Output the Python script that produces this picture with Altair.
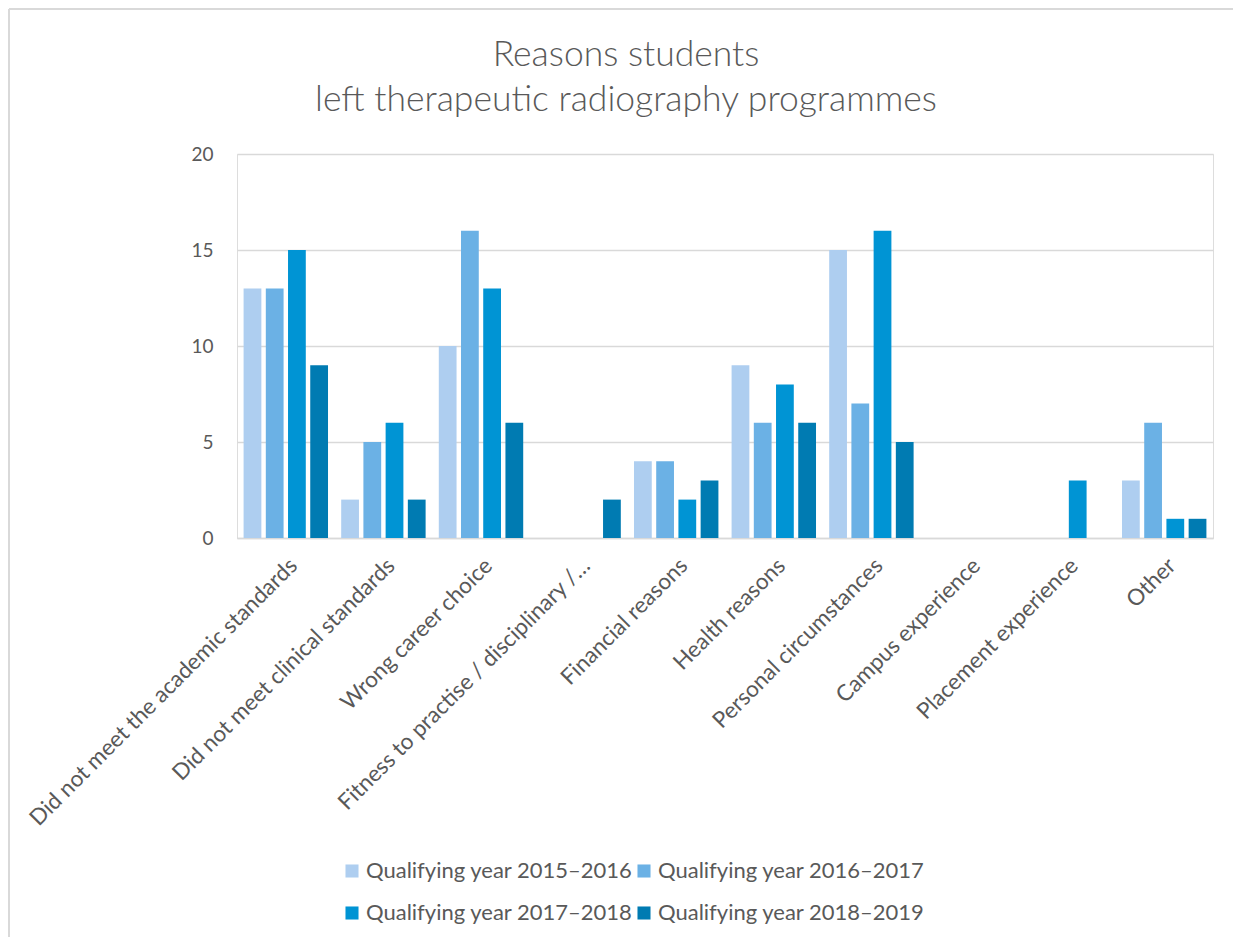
import altair as alt
import pandas as pd

categories = [
    "Did not meet the academic standards",
    "Did not meet clinical standards",
    "Wrong career choice",
    "Fitness to practise / disciplinary /…",
    "Financial reasons",
    "Health reasons",
    "Personal circumstances",
    "Campus experience",
    "Placement experience",
    "Other",
]
series_names = [
    "Qualifying year 2015–2016",
    "Qualifying year 2016–2017",
    "Qualifying year 2017–2018",
    "Qualifying year 2018–2019",
]
y2015 = [13, 2, 10, 0, 4, 9, 15, 0, 0, 3]
y2016 = [13, 5, 16, 0, 4, 6, 7, 0, 0, 6]
y2017 = [15, 6, 13, 0, 2, 8, 16, 0, 3, 1]
y2018 = [9, 2, 6, 2, 3, 6, 5, 0, 0, 1]
colors = ["#AECEF0", "#6BB1E5", "#0094D4", "#007BB2"]
title_lines = ["Reasons students", "left therapeutic radiography programmes"]

rows = []
for name, vals in zip(series_names, [y2015, y2016, y2017, y2018]):
    for c, v in zip(categories, vals):
        rows.append({"Reason": c, "Series": name, "Value": v})
df = pd.DataFrame(rows)

FONT = "Lato"
GREY = "#595959"

bars = alt.Chart(df).mark_bar().encode(
    x=alt.X("Reason:N", sort=categories,
            scale=alt.Scale(paddingInner=0.135, paddingOuter=0.0675),
            axis=alt.Axis(title=None, labelAngle=-45, labelFontSize=22.5, labelColor=GREY,
                          labelFont=FONT, ticks=False, domain=True, domainColor="#D9D9D9",
                          domainWidth=1.5, labelPadding=16, labelLimit=500)),
    xOffset=alt.XOffset("Series:N", sort=series_names,
                        scale=alt.Scale(paddingInner=0.2, paddingOuter=0)),
    y=alt.Y("Value:Q", scale=alt.Scale(domain=[0, 20]),
            axis=alt.Axis(title=None, values=[0, 5, 10, 15, 20], ticks=False, domain=False,
                          gridColor="#D9D9D9", gridWidth=1.5, labelFontSize=19,
                          labelColor=GREY, labelFont=FONT, labelPadding=24)),
    color=alt.Color("Series:N", sort=series_names,
                    scale=alt.Scale(domain=series_names, range=colors),
                    legend=alt.Legend(title=None, orient="none", legendX=104, legendY=706,
                                      columns=2, direction="horizontal",
                                      symbolType="square", symbolSize=170,
                                      symbolStrokeWidth=0, labelFontSize=22, labelColor=GREY,
                                      labelFont=FONT, rowPadding=20, columnPadding=0,
                                      labelOffset=3, labelLimit=400)),
)

one = pd.DataFrame({"a": [0]})
border_left = alt.Chart(one).mark_rule(color="#D9D9D9", strokeWidth=2).encode(
    x=alt.value(-228), y=alt.value(-145), y2=alt.value(900)
)
border_top = alt.Chart(one).mark_rule(color="#D9D9D9", strokeWidth=2).encode(
    x=alt.value(-228), x2=alt.value(1100), y=alt.value(-145)
)
title1 = alt.Chart(one).mark_text(font=FONT, fontSize=35.5, fontWeight=300, color=GREY,
                                  baseline="middle", align="center").encode(
    x=alt.value(389), y=alt.value(-99), text=alt.value(title_lines[0])
)
title2 = alt.Chart(one).mark_text(font=FONT, fontSize=35.5, fontWeight=300, color=GREY,
                                  baseline="middle", align="center").encode(
    x=alt.value(389), y=alt.value(-54), text=alt.value(title_lines[1])
)

chart = alt.layer(bars, border_left, border_top, title1, title2).properties(
    width=976, height=384,
    autosize=alt.AutoSizeParams(type="none"),
    padding={"left": 229, "top": 146, "right": 20, "bottom": 399},
).configure_view(stroke=None).configure(background="white")

chart.save("out.html", embed_options={"renderer": "svg", "actions": False})
